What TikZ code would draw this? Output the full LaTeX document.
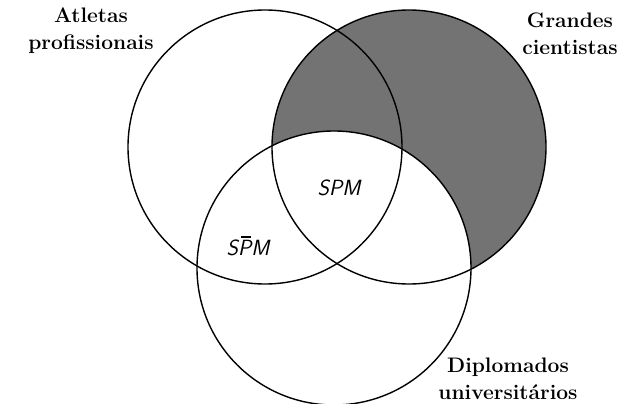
\documentclass[tikz,border=0pt]{standalone}
\newcommand{\pbar}{\makebox[0pt][l]{\kern0.15em\raisebox{0.8em}{\rule{0.42em}{0.07em}}}P}
\begin{document}
\begin{tikzpicture}[x=1pt,y=-1pt,
    set/.style={line width=1.4pt},
    setlabel/.style={align=center,font=\fontsize{21}{27}\selectfont\bfseries},
    region/.style={font=\fontsize{22}{24}\selectfont\sffamily\itshape}]
    \useasboundingbox (0,0) rectangle (622,404);
    % Centres of the three sets
    \coordinate (atl) at (265,147);
    \coordinate (cie) at (409,147);
    \coordinate (dip) at (334,268);

    % Shaded part: scientists outside the graduates
    \begin{scope}
        \clip (cie) circle (137);
        \fill[black!55,even odd rule] (cie) circle (137) (dip) circle (137);
    \end{scope}

    % Circles
    \draw[set] (atl) circle (137);
    \draw[set] (cie) circle (137);
    \draw[set] (dip) circle (137);

    % Labels
    \node[setlabel] (latl) at (91,31) {Atletas\\profissionais};
    \node[setlabel] (lcie) at (570,34) {Grandes\\cientistas};
    \node[setlabel] (ldip) at (508,379) {Diplomados\\universitários};

    % Regions
    \node[region] (spm) at (339,188) {SPM};
    \node[region] (spbm) at (248,246) {S\pbar M};
\end{tikzpicture}
\end{document}
